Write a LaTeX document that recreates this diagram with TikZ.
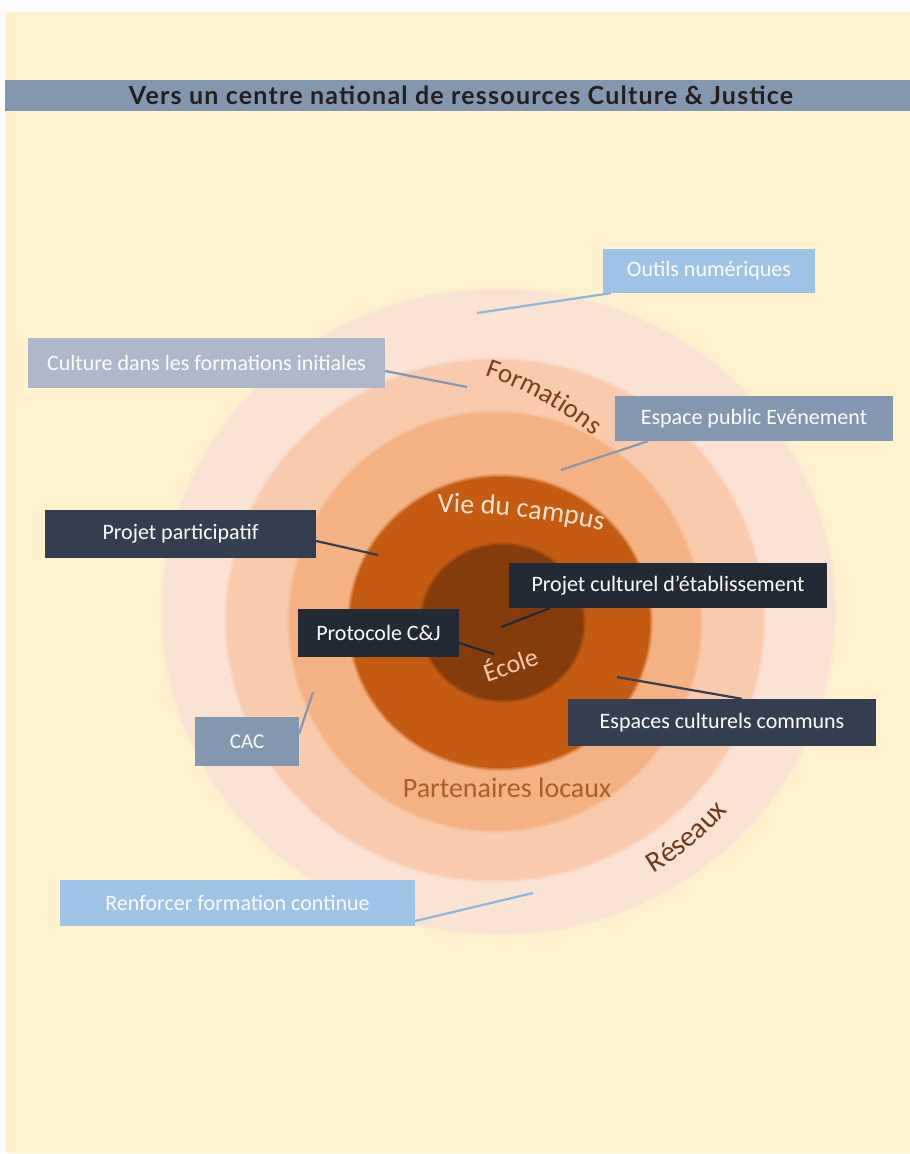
\documentclass[tikz,border=0pt]{standalone}
\usepackage{fontspec}
\setmainfont{Carlito}
\newfontfamily\titlefont{Lato}[LetterSpace=5]
\usetikzlibrary{decorations.text}
\definecolor{cream}{HTML}{FFF2CC}
\definecolor{barcol}{HTML}{8497B0}
\definecolor{titlecol}{HTML}{231F20}
\definecolor{ringA}{HTML}{FBE3D4}
\definecolor{ringB}{HTML}{F8CBAD}
\definecolor{ringC}{HTML}{F4B183}
\definecolor{ringD}{HTML}{C55A11}
\definecolor{ringE}{HTML}{843C0C}
\definecolor{lblue}{HTML}{9DC3E6}
\definecolor{lblueline}{HTML}{8FB4DE}
\definecolor{greyblue}{HTML}{ADB9CA}
\definecolor{midblue}{HTML}{8497B0}
\definecolor{darkA}{HTML}{333F50}
\definecolor{darkB}{HTML}{222A35}
\definecolor{brownA}{HTML}{7A3E1A}
\definecolor{brownB}{HTML}{6E3A1C}
\definecolor{partcol}{HTML}{A95F2C}
\definecolor{palecol}{HTML}{FBE5D6}
\begin{document}
\begin{tikzpicture}[x=1pt,y=-1pt,
  box/.style={inner sep=0pt, text=white, font=\fontsize{22}{22}\selectfont},
  link/.style={line width=2.2pt}]
\useasboundingbox (0,0) rectangle (910,1154);
\fill[white] (0,0) rectangle (910,1154);
\fill[cream] (5,12) rectangle (910,1153);
% title bar
\node[fill=barcol, inner sep=0pt, minimum width=905pt, minimum height=31pt, anchor=north west] (bar) at (5,80) {};
\node[font=\titlefont\bfseries\fontsize{25}{25}\selectfont, text=titlecol, inner sep=0pt] (title) at (461,95) {Vers un centre national de ressources Culture \& Justice};
% rings (with soft edges)
\foreach \cx/\cy/\rx/\ry/\col in {498.5/611.5/335.5/321.5/ringA, 495/620/268/260/ringB, 495/621.5/205/208.5/ringC, 500/622.5/150/145.5/ringD, 502.5/622.5/80.5/77.5/ringE}{
  \fill[\col, opacity=0.25] (\cx,\cy) ellipse [x radius=\rx+3, y radius=\ry+3];
  \fill[\col, opacity=0.5] (\cx,\cy) ellipse [x radius=\rx+1.5, y radius=\ry+1.5];
  \fill[\col] (\cx,\cy) ellipse [x radius=\rx, y radius=\ry];
}
% ring labels
\path[decorate, decoration={text along path, text align=center,
  text={|\fontsize{27}{27}\selectfont\color{brownA}|Formations}}]
  (372,707) ++(-78:350) arc[start angle=-78, end angle=-44, radius=350];
\path[decorate, decoration={text along path, text align=center,
  text={|\fontsize{28}{28}\selectfont\color{palecol}|Vie du campus}}]
  (435.7,1312.7) ++(-93:800) arc[start angle=-93, end angle=-74.8, radius=800];
\path[decorate, decoration={text along path, text align=center,
  text={|\fontsize{29}{29}\selectfont\color{brownB}|Réseaux}}]
  (498,612) ++(66:304) arc[start angle=66, end angle=34, radius=304];
\node[rotate=19, font=\fontsize{26}{26}\selectfont, text=ringB, inner sep=0pt] (ecole) at (510,663) {École};
\node[font=\fontsize{28}{28}\selectfont, text=partcol, inner sep=0pt] (partenaires) at (507,788) {Partenaires locaux};
% boxes
\node[box, fill=lblue, minimum width=212pt, minimum height=44pt] (outils) at (709,271) {Outils numériques};
\node[box, fill=greyblue, minimum width=357pt, minimum height=50pt] (culture) at (206.5,363) {Culture dans les formations initiales};
\node[box, fill=midblue, minimum width=278pt, minimum height=45pt] (espace) at (754,418.5) {Espace public Evénement};
\node[box, fill=darkA, minimum width=271pt, minimum height=48pt] (participatif) at (180.5,534) {Projet participatif};
\node[box, fill=darkB, minimum width=318pt, minimum height=45pt] (culturel) at (668,585.5) {Projet culturel d’établissement};
\node[box, fill=darkB, minimum width=161pt, minimum height=48pt] (protocole) at (378.5,633) {Protocole C\&J};
\node[box, fill=darkA, minimum width=308pt, minimum height=47pt] (espaces) at (722,722.5) {Espaces culturels communs};
\node[box, fill=midblue, minimum width=104pt, minimum height=49pt, font=\fontsize{21}{21}\selectfont] (cac) at (247,741.5) {CAC};
\node[box, fill=lblue, minimum width=355pt, minimum height=46pt] (renforcer) at (237.5,903) {Renforcer formation continue};
% connector ends
\coordinate (pOutils) at (477,313);
\coordinate (pCulture) at (467,387);
\coordinate (pEspace) at (561,470);
\coordinate (pPart) at (378,555);
\coordinate (pCulturel) at (501,627);
\coordinate (pProto) at (494,654);
\coordinate (pEspaces) at (617,677);
\coordinate (pCac) at (313,692);
\coordinate (pRenf) at (533,893);
% connectors
\draw[link, lblueline] ([xshift=8pt]outils.south west) -- (pOutils);
\draw[link, midblue] ([yshift=-8pt]culture.east) -- (pCulture);
\draw[link, midblue] ([xshift=33pt]espace.south west) -- (pEspace);
\draw[link, darkA] ([yshift=-7pt]participatif.east) -- (pPart);
\draw[link, darkB] ([xshift=41pt]culturel.south west) -- (pCulturel);
\draw[link, darkB] ([yshift=-10pt]protocole.east) -- (pProto);
\draw[link, darkA] ([xshift=174pt]espaces.north west) -- (pEspaces);
\draw[link, midblue] ([yshift=8pt]cac.east) -- (pCac);
\draw[link, lblueline] ([yshift=-18pt]renforcer.east) -- (pRenf);
\end{tikzpicture}
\end{document}
